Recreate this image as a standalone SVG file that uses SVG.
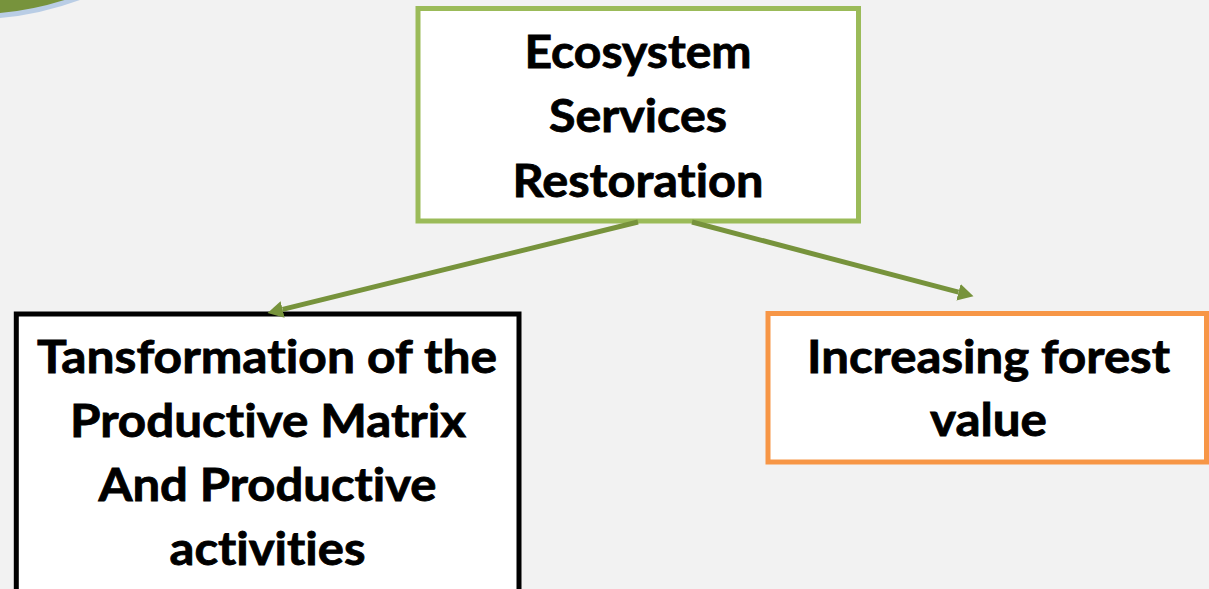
<svg xmlns="http://www.w3.org/2000/svg" width="1209" height="589" viewBox="0 0 1209 589">
  <style>
    .lbl { font-family: Lato, "Open Sans", "Liberation Sans", sans-serif; font-weight: 700; font-size: 45px; fill: #000; stroke: #000; stroke-width: 0.8; text-anchor: middle; font-variant-ligatures: none; font-feature-settings: "liga" 0, "clig" 0, "dlig" 0; }
    .box { fill: #FFFFFF; stroke-width: 5; }
    .conn { fill: none; stroke: #77933C; stroke-width: 5; }
  </style>
  <defs>
    <marker id="arr" markerUnits="strokeWidth" markerWidth="3.2" markerHeight="3.6" refX="0" refY="1.8" orient="auto" viewBox="0 0 3.2 3.6">
      <path d="M0,0.1 L3.1,1.8 L0,3.5 z" fill="#77933C"/>
    </marker>
  </defs>
  <rect x="0" y="0" width="1209" height="589" fill="#F2F2F2"/>
  <ellipse cx="-30" cy="-300" rx="317" ry="317" fill="#77933C" stroke="#B9CDE5" stroke-width="5"/>

  <g id="node-ecosystem">
    <rect class="box" x="418" y="8.5" width="440.5" height="212.5" stroke="#9BBB59"/>
    <text class="lbl" x="638" y="68" textLength="227" lengthAdjust="spacingAndGlyphs">Ecosystem</text>
    <text class="lbl" x="638" y="132" textLength="178" lengthAdjust="spacingAndGlyphs">Services</text>
    <text class="lbl" x="638" y="196.5" textLength="251" lengthAdjust="spacingAndGlyphs">Restoration</text>
  </g>

  <g id="node-transformation">
    <rect class="box" x="16.3" y="314" width="502.7" height="300" stroke="#000000"/>
    <text class="lbl" x="267" y="373" textLength="460" lengthAdjust="spacingAndGlyphs">Tansformation of the</text>
    <text class="lbl" x="268" y="437" textLength="396" lengthAdjust="spacingAndGlyphs">Productive Matrix</text>
    <text class="lbl" x="267.5" y="501" textLength="338" lengthAdjust="spacingAndGlyphs">And Productive</text>
    <text class="lbl" x="267.5" y="565" textLength="196" lengthAdjust="spacingAndGlyphs">activities</text>
  </g>

  <g id="node-forest">
    <rect class="box" x="768" y="313.5" width="438.5" height="148.5" stroke="#F79646"/>
    <text class="lbl" x="988.5" y="372.7" textLength="363" lengthAdjust="spacingAndGlyphs">Increasing forest</text>
    <text class="lbl" x="988.5" y="435.5" textLength="117" lengthAdjust="spacingAndGlyphs">value</text>
  </g>

  <g id="connectors">
    <path class="conn" d="M638,222 L282.6,309.4" marker-end="url(#arr)"/>
    <path class="conn" d="M692,222 L958.5,292.2" marker-end="url(#arr)"/>
  </g>
</svg>
